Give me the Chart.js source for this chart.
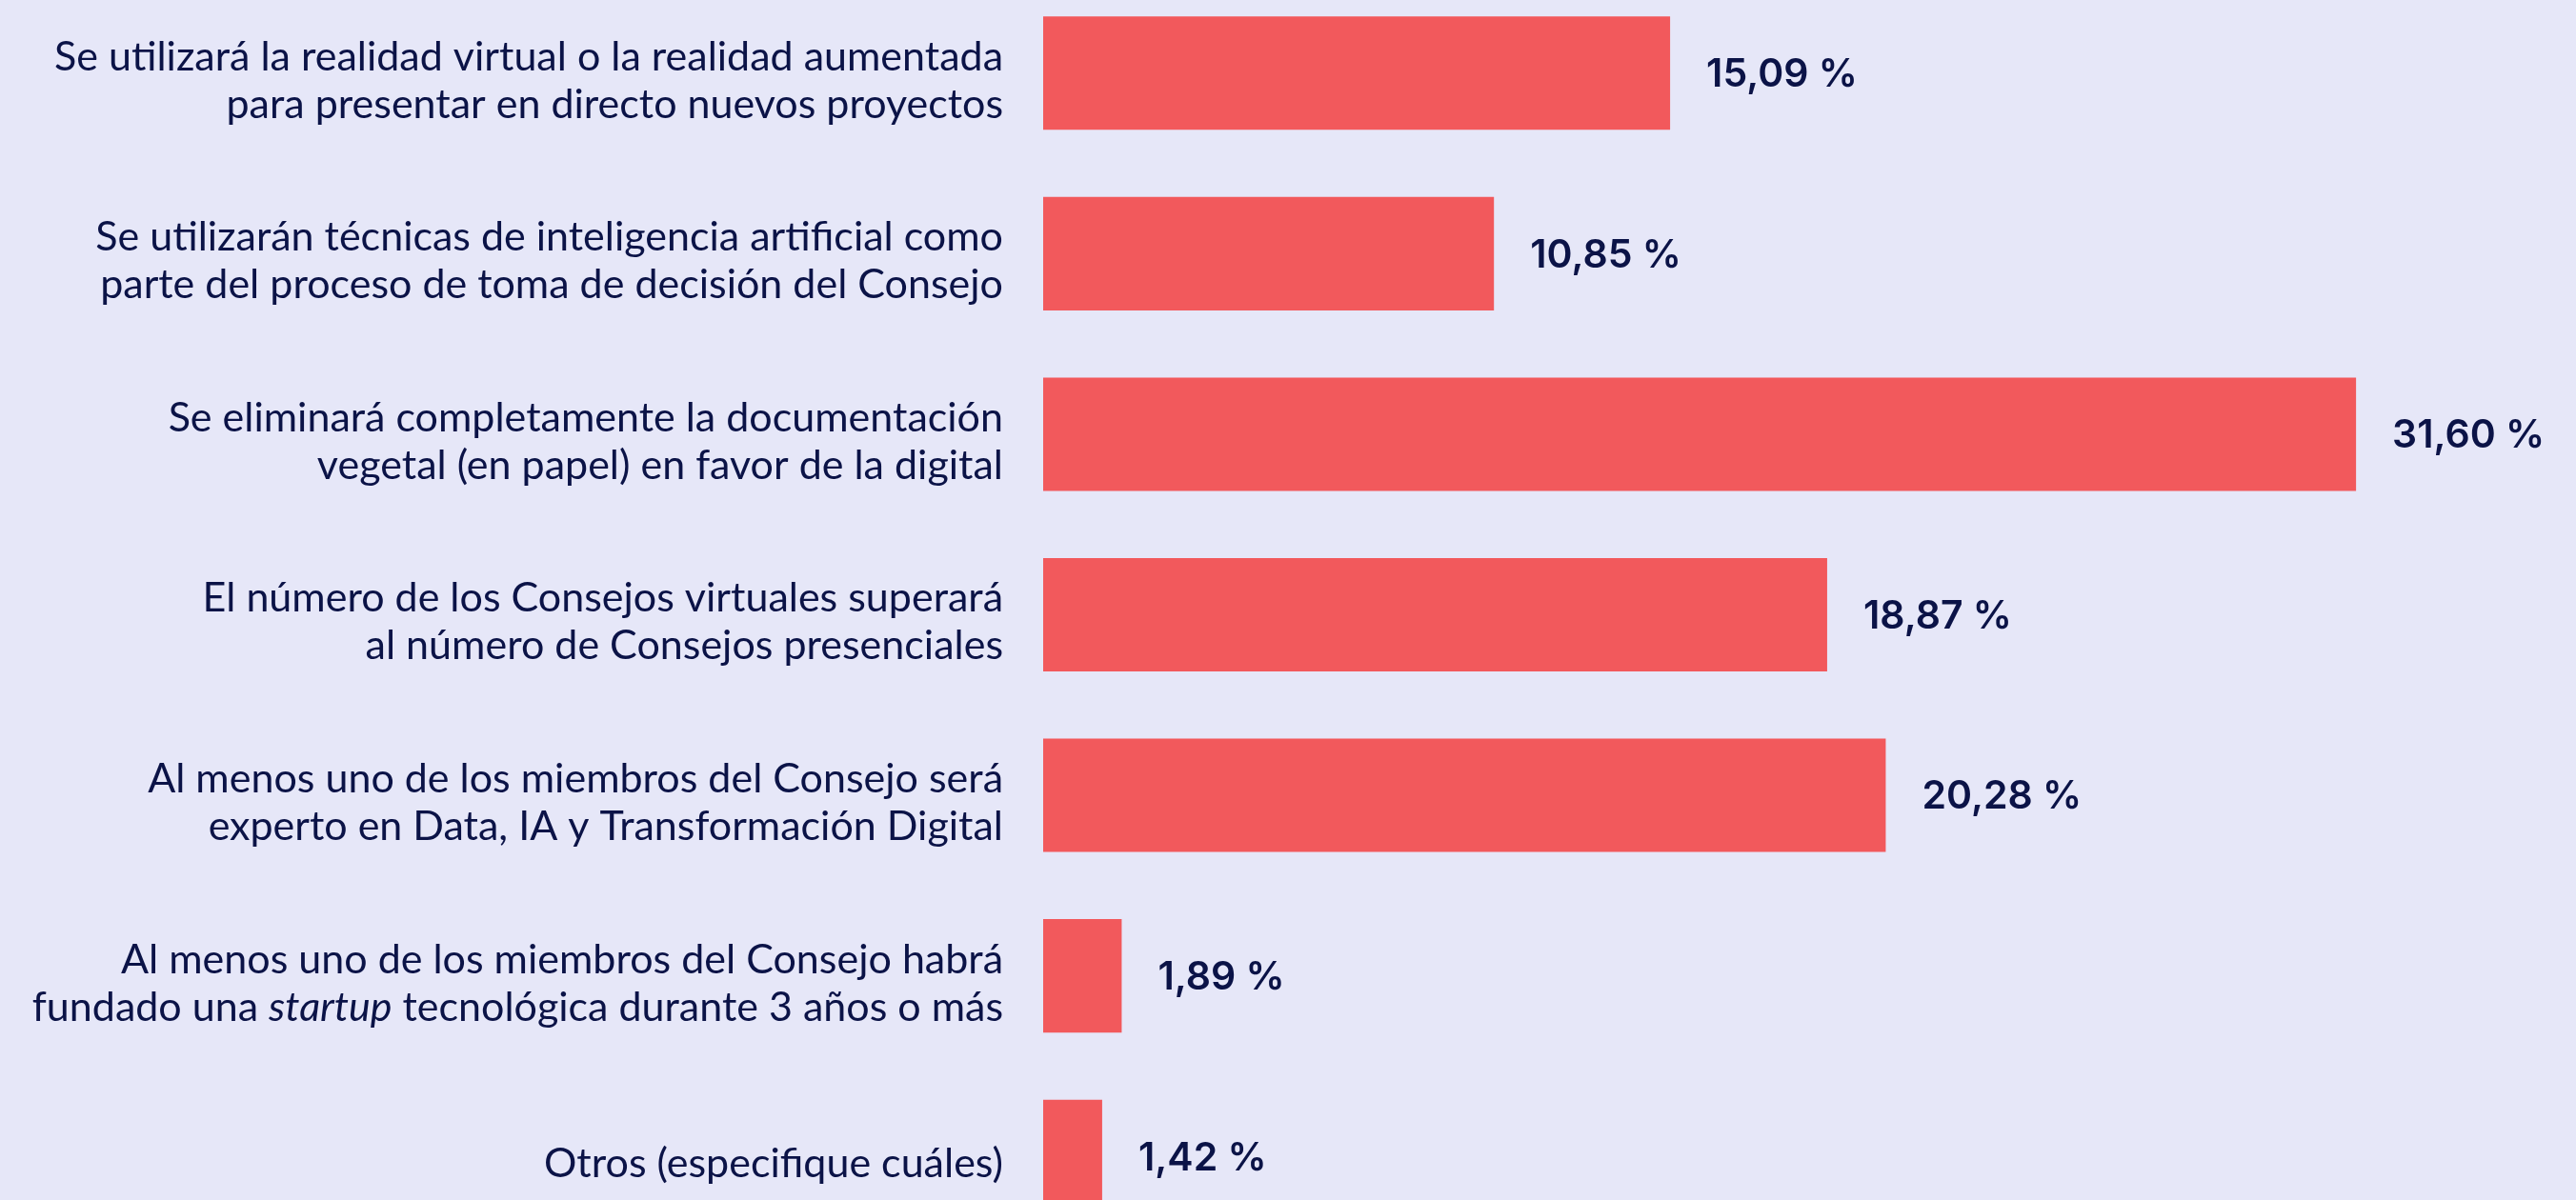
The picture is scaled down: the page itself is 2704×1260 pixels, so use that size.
<!DOCTYPE html>
<html>
<head>
<meta charset="utf-8">
<script src="https://cdn.jsdelivr.net/npm/chart.js@4.4.1/dist/chart.umd.min.js"></script>
<style>
  html, body { margin: 0; padding: 0; background: #e6e7f8; overflow: hidden; width: 2704px; height: 1260px; }
  #wrap { position: absolute; left: 0; top: -18px; width: 2704px; height: 1327px; }
</style>
</head>
<body>
<div id="wrap"><canvas id="chart"></canvas></div>
<script>
// data
const categories = [
  ["Se utilizará la realidad virtual o la realidad aumentada", "para presentar en directo nuevos proyectos"],
  ["Se utilizarán técnicas de inteligencia artificial como", "parte del proceso de toma de decisión del Consejo"],
  ["Se eliminará completamente la documentación", "vegetal (en papel) en favor de la digital"],
  ["El número de los Consejos virtuales superará", "al número de Consejos presenciales"],
  ["Al menos uno de los miembros del Consejo será", "experto en Data, IA y Transformación Digital"],
  ["Al menos uno de los miembros del Consejo habrá", "fundado una startup tecnológica durante 3 años o más"],
  ["Otros (especifique cuáles)"]
];
const values = [15.09, 10.85, 31.60, 18.87, 20.28, 1.89, 1.42];
const italicWords = ["startup"];

const ink = "#0b1347";
const barColor = "#f2595c";
const labelSize = 43;
const labelFamily = "Lato, sans-serif";
const lineGap = 50;

function splitItalic(text) {
  let parts = [{ t: text, it: false }];
  italicWords.forEach(w => {
    parts = parts.flatMap(p => {
      if (p.it) return [p];
      const out = [];
      p.t.split(w).forEach((seg, k) => {
        if (k > 0) out.push({ t: w, it: true });
        if (seg) out.push({ t: seg, it: false });
      });
      return out;
    });
  });
  return parts;
}

const categoryLabels = {
  id: "categoryLabels",
  afterDraw(chart) {
    const ctx = chart.ctx;
    const yScale = chart.scales.y;
    const right = chart.chartArea.left - 42;
    ctx.save();
    ctx.fillStyle = ink;
    ctx.textBaseline = "middle";
    ctx.textAlign = "left";
    categories.forEach((lines, i) => {
      const cy = yScale.getPixelForTick(i);
      lines.forEach((line, j) => {
        const y = cy + (j - (lines.length - 1) / 2) * lineGap + 8;
        const parts = splitItalic(line);
        let total = 0;
        parts.forEach(p => {
          ctx.font = (p.it ? "italic " : "") + labelSize + "px " + labelFamily;
          p.w = ctx.measureText(p.t).width;
          total += p.w;
        });
        let x = right - total;
        parts.forEach(p => {
          ctx.font = (p.it ? "italic " : "") + labelSize + "px " + labelFamily;
          ctx.fillText(p.t, x, y);
          x += p.w;
        });
      });
    });
    ctx.restore();
  }
};

const valueLabels = {
  id: "valueLabels",
  afterDatasetsDraw(chart) {
    const ctx = chart.ctx;
    const meta = chart.getDatasetMeta(0);
    ctx.save();
    ctx.fillStyle = ink;
    ctx.font = "600 41px Inter, sans-serif";
    ctx.textBaseline = "middle";
    ctx.textAlign = "left";
    meta.data.forEach((bar, i) => {
      const txt = values[i].toFixed(2).replace(".", ",") + " %";
      ctx.fillText(txt, bar.x + 38, bar.y + 2);
    });
    ctx.restore();
  }
};

new Chart(document.getElementById("chart"), {
  type: "bar",
  data: {
    labels: categories.map(c => c.join(" ")),
    datasets: [
      {
        data: values,
        backgroundColor: barColor,
        borderWidth: 0,
        barPercentage: 0.628,
        categoryPercentage: 1
      }
    ]
  },
  options: {
    indexAxis: "y",
    responsive: true,
    maintainAspectRatio: false,
    animation: false,
    layout: { padding: { left: 0, right: 39, top: 0, bottom: 0 } },
    plugins: { legend: { display: false }, tooltip: { enabled: false } },
    scales: {
      x: { display: false, min: 0, max: 36 },
      y: {
        display: true,
        grid: { display: false },
        border: { display: false },
        ticks: { display: false },
        afterFit: scale => { scale.width = 1095; }
      }
    }
  },
  plugins: [categoryLabels, valueLabels]
});
</script>
</body>
</html>
